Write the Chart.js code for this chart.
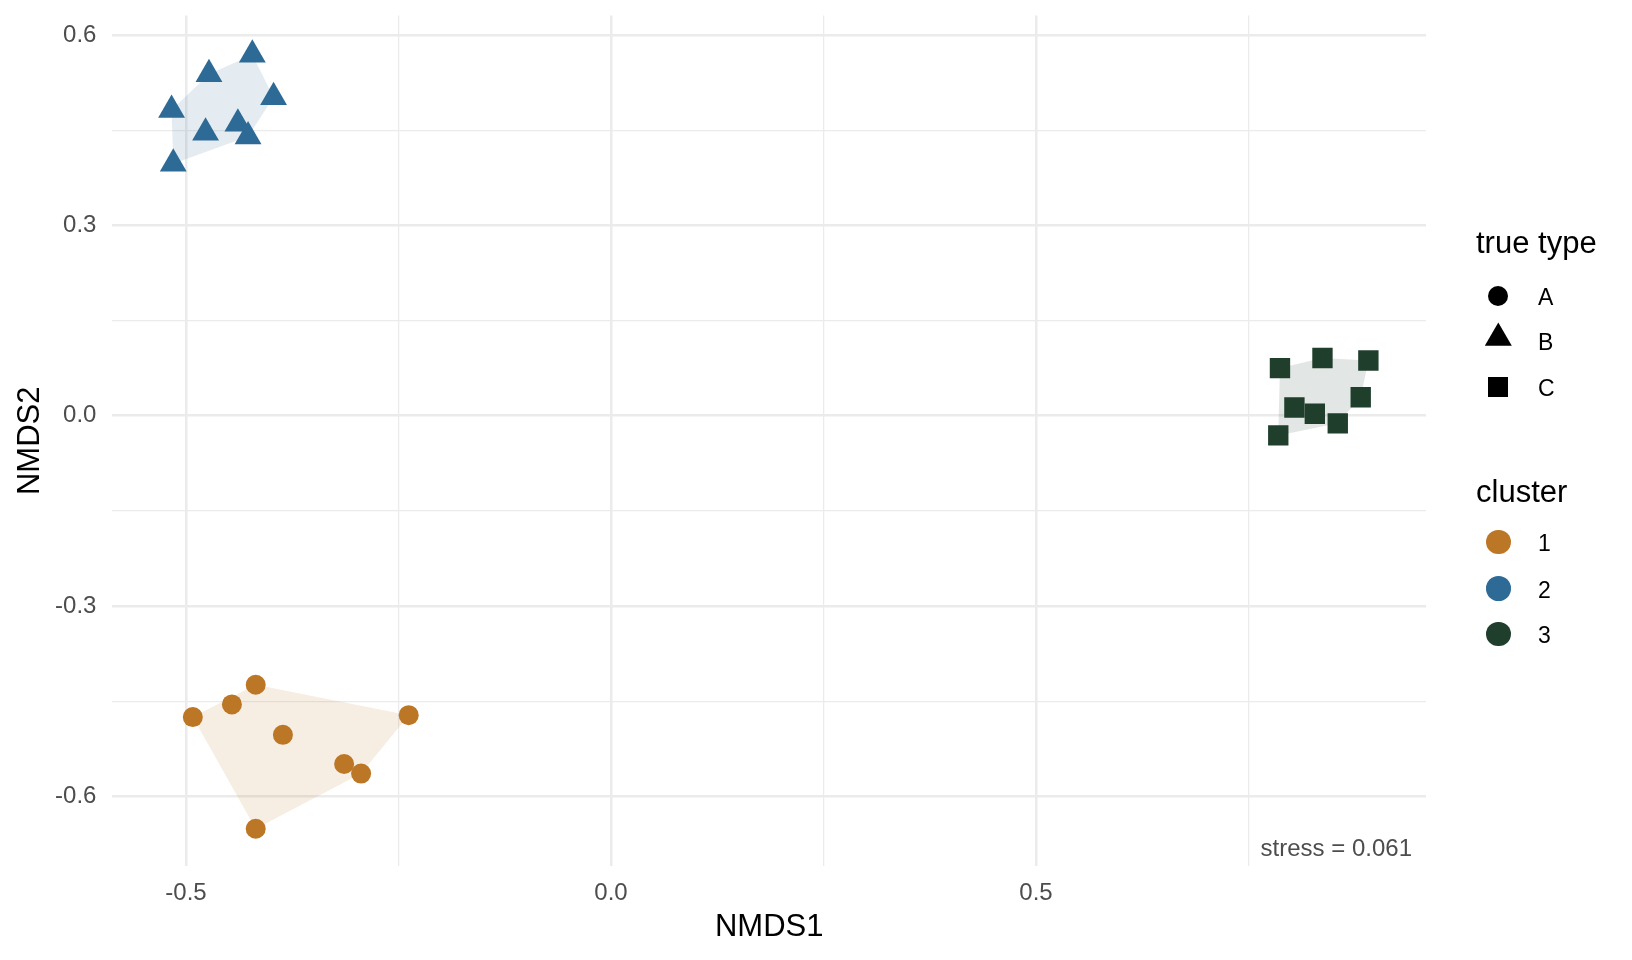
<!DOCTYPE html>
<html>
<head>
<meta charset="utf-8">
<script src="https://cdn.jsdelivr.net/npm/chart.js@4.4.1/dist/chart.umd.min.js"></script>
<style>
    html, body { margin: 0; padding: 0; background: #ffffff; }
    #wrap {
        position: relative;
        width: 1632px;
        height: 960px;
        font-family: "Liberation Sans", Arial, Helvetica, sans-serif;
    }
    #plot { position: absolute; left: 0; top: 0; }
    .lg { position: absolute; white-space: nowrap; color: #000; }
    .key { position: absolute; }
</style>
</head>
<body>
<div id="wrap">
    <canvas id="plot" width="1632" height="960"></canvas>
    <div id="legend"></div>
    <div class="lg" id="stress" style="right:220px; top:833px; font-size:24px; line-height:29px; color:#4D4D4D;">stress = 0.061</div>
</div>
<script>
// ===========================
// DATOS
// ===========================
const cluster1X = [-0.418, -0.446, -0.492, -0.386, -0.314, -0.294, -0.238, -0.418];
const cluster1Y = [-0.424, -0.455, -0.475, -0.503, -0.549, -0.564, -0.472, -0.651];

const cluster2X = [-0.422, -0.473, -0.397, -0.517, -0.477, -0.439, -0.427, -0.515];
const cluster2Y = [0.569, 0.538, 0.502, 0.482, 0.446, 0.460, 0.440, 0.397];

const cluster3X = [0.787, 0.837, 0.891, 0.882, 0.804, 0.828, 0.855, 0.785];
const cluster3Y = [0.075, 0.091, 0.087, 0.029, 0.013, 0.003, -0.012, -0.031];

const typeLabels = ['A', 'B', 'C'];
const clusterLabels = ['1', '2', '3'];

const xMajor = [-0.5, 0, 0.5];
const xMajorLabels = ['-0.5', '0.0', '0.5'];
const xMinor = [-0.25, 0.25, 0.75];

const yMajor = [-0.6, -0.3, 0, 0.3, 0.6];
const yMajorLabels = ['-0.6', '-0.3', '0.0', '0.3', '0.6'];
const yMinor = [-0.45, -0.15, 0.15, 0.45];

const xMin = -0.5866, xMax = 0.9588;
const yMin = -0.7097, yMax = 0.6306;

// ===========================
// ESTILOS
// ===========================
const FONT = '"Liberation Sans", Arial, Helvetica, sans-serif';
const colors = ['#BC7726', '#2E6A96', '#1F3E2B'];
const hullColors = ['rgba(188, 119, 38, 0.13)', 'rgba(46, 106, 150, 0.13)', 'rgba(31, 62, 43, 0.13)'];
const shapes = ['circle', 'triangle', 'rect'];
const radii = [10, 15.5, 14.4];
const TICK_SIZE = 24;

const clusters = [
    { x: cluster1X, y: cluster1Y },
    { x: cluster2X, y: cluster2Y },
    { x: cluster3X, y: cluster3Y }
];

// Envolvente convexa (monotone chain)
function convexHull(points) {
    const pts = points.slice().sort((a, b) => a.x - b.x || a.y - b.y);
    const cross = (o, a, b) => (a.x - o.x) * (b.y - o.y) - (a.y - o.y) * (b.x - o.x);
    const lower = [];
    for (const p of pts) {
        while (lower.length >= 2 && cross(lower[lower.length - 2], lower[lower.length - 1], p) <= 0) lower.pop();
        lower.push(p);
    }
    const upper = [];
    for (let i = pts.length - 1; i >= 0; i--) {
        const p = pts[i];
        while (upper.length >= 2 && cross(upper[upper.length - 2], upper[upper.length - 1], p) <= 0) upper.pop();
        upper.push(p);
    }
    upper.pop();
    lower.pop();
    return lower.concat(upper);
}

const hullPlugin = {
    id: 'hulls',
    beforeDatasetsDraw(chart) {
        const { ctx, scales } = chart;
        clusters.forEach((c, i) => {
            const hull = convexHull(c.x.map((v, j) => ({ x: v, y: c.y[j] })));
            ctx.save();
            ctx.beginPath();
            hull.forEach((p, k) => {
                const px = scales.x.getPixelForValue(p.x);
                const py = scales.y.getPixelForValue(p.y);
                if (k === 0) ctx.moveTo(px, py); else ctx.lineTo(px, py);
            });
            ctx.closePath();
            ctx.fillStyle = hullColors[i];
            ctx.fill();
            ctx.restore();
        });
    }
};

const xGrid = xMajor.concat(xMinor).sort((a, b) => a - b);
const yGrid = yMajor.concat(yMinor).sort((a, b) => a - b);

new Chart(document.getElementById('plot'), {
    type: 'scatter',
    data: {
        datasets: clusters.map((c, i) => ({
            label: clusterLabels[i],
            data: c.x.map((v, j) => ({ x: v, y: c.y[j] })),
            pointStyle: shapes[i],
            pointRadius: radii[i],
            pointHoverRadius: radii[i],
            backgroundColor: colors[i],
            borderColor: colors[i],
            borderWidth: 0
        }))
    },
    options: {
        responsive: false,
        animation: false,
        devicePixelRatio: 1,
        events: [],
        layout: { padding: { top: 15.6, right: 206, bottom: 0, left: 0 } },
        plugins: {
            legend: { display: false },
            tooltip: { enabled: false }
        },
        scales: {
            x: {
                type: 'linear',
                min: xMin,
                max: xMax,
                afterBuildTicks: s => { s.ticks = xGrid.map(v => ({ value: v })); },
                afterFit: s => { s.height = 94; },
                ticks: {
                    autoSkip: false,
                    maxRotation: 0,
                    padding: 13,
                    color: '#4D4D4D',
                    font: { family: FONT, size: TICK_SIZE },
                    callback: v => {
                        const k = xMajor.indexOf(v);
                        return k >= 0 ? xMajorLabels[k] : '';
                    }
                },
                grid: {
                    color: '#EBEBEB',
                    drawTicks: false,
                    lineWidth: c => (c.tick && xMajor.includes(c.tick.value)) ? 2.5 : 1.25
                },
                border: { display: false },
                title: {
                    display: true,
                    text: 'NMDS1',
                    color: '#000000',
                    font: { family: FONT, size: 31 },
                    padding: { top: 0, bottom: 13.5 }
                }
            },
            y: {
                type: 'linear',
                min: yMin,
                max: yMax,
                afterBuildTicks: s => { s.ticks = yGrid.map(v => ({ value: v })); },
                afterFit: s => {
                    // ancho fijo y sin relleno extra arriba/abajo
                    s.width = 112.4;
                    s.paddingTop = 0;
                    s.paddingBottom = 0;
                },
                ticks: {
                    autoSkip: false,
                    padding: 16,
                    color: '#4D4D4D',
                    font: { family: FONT, size: TICK_SIZE },
                    callback: v => {
                        const k = yMajor.indexOf(v);
                        return k >= 0 ? yMajorLabels[k] : '';
                    }
                },
                grid: {
                    color: '#EBEBEB',
                    drawTicks: false,
                    lineWidth: c => (c.tick && yMajor.includes(c.tick.value)) ? 2.5 : 1.25
                },
                border: { display: false },
                title: {
                    display: true,
                    text: 'NMDS2',
                    color: '#000000',
                    font: { family: FONT, size: 31 },
                    padding: { top: 11.5, bottom: 0 }
                }
            }
        }
    },
    plugins: [hullPlugin]
});

// ===========================
// LEYENDA (HTML)
// ===========================
function addText(text, left, centerY, size) {
    const el = document.createElement('div');
    el.className = 'lg';
    el.textContent = text;
    el.style.left = left + 'px';
    el.style.fontSize = size + 'px';
    el.style.lineHeight = Math.round(size * 1.2) + 'px';
    el.style.top = (centerY - Math.round(size * 1.2) / 2) + 'px';
    document.getElementById('legend').appendChild(el);
}

function addKey(shape, cx, cy, size, color) {
    const el = document.createElement('div');
    el.className = 'key';
    el.style.background = color;
    if (shape === 'circle') {
        el.style.width = size + 'px';
        el.style.height = size + 'px';
        el.style.borderRadius = '50%';
        el.style.left = (cx - size / 2) + 'px';
        el.style.top = (cy - size / 2) + 'px';
    } else if (shape === 'triangle') {
        const w = size, h = size * 0.866;
        el.style.width = w + 'px';
        el.style.height = h + 'px';
        el.style.clipPath = 'polygon(50% 0, 100% 100%, 0 100%)';
        el.style.left = (cx - w / 2) + 'px';
        el.style.top = (cy - h * 2 / 3) + 'px';
    } else {
        el.style.width = size + 'px';
        el.style.height = size + 'px';
        el.style.left = (cx - size / 2) + 'px';
        el.style.top = (cy - size / 2) + 'px';
    }
    document.getElementById('legend').appendChild(el);
}

addText('true type', 1476, 242.5, 31);
const typeRows = [297, 342, 388];
const typeKeySizes = [20, 27, 20];
typeLabels.forEach((t, i) => {
    addKey(shapes[i], 1498.3, typeRows[i] - (i === 1 ? 4 : 1), typeKeySizes[i], '#000000');
    addText(t, 1538, typeRows[i], 23);
});

addText('cluster', 1476, 491, 31);
const clusterRows = [543, 589.5, 635];
clusterLabels.forEach((t, i) => {
    addKey('circle', 1498.3, clusterRows[i] - 1, 24.7, colors[i]);
    addText(t, 1538, clusterRows[i], 23);
});
</script>
</body>
</html>
